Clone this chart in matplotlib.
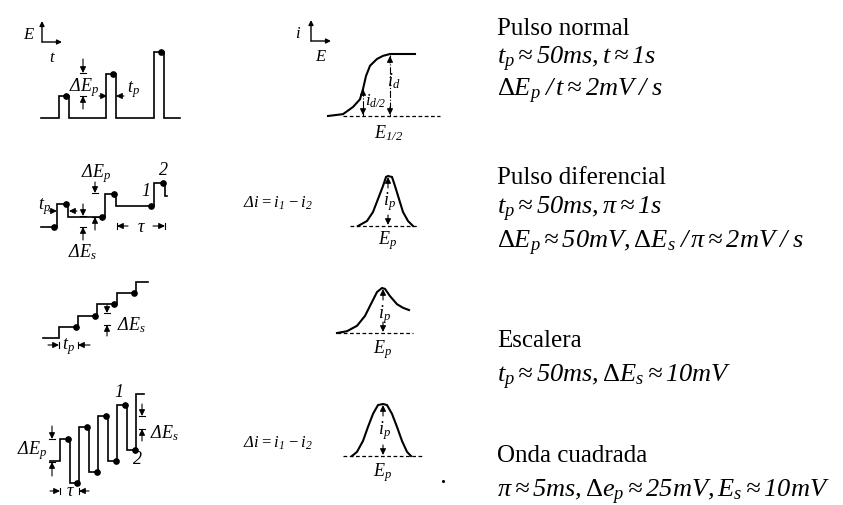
import matplotlib.pyplot as plt

plt.rcParams["font.family"] = ["Liberation Serif", "DejaVu Serif"]
plt.rcParams["mathtext.fontset"] = "custom"
plt.rcParams["mathtext.rm"] = "Liberation Serif:italic"
plt.rcParams["mathtext.it"] = "Liberation Serif:italic"
plt.rcParams["mathtext.sf"] = "Liberation Serif"

W, H = 843, 506

# --- Pulso normal: amplitudes (x dE_p) and onsets (x tau) ---
normal_amp = [1, 2, 3]
normal_onset = [0, 1, 2]
normal_width = 0.21
# polarograma: E (rel.) vs i / i_d
normal_curve_e = [0, 15, 25, 32, 35, 38, 42, 49, 55, 62, 87]
normal_curve_i = [0, 0.03, 0.145, 0.27, 0.435, 0.645, 0.81, 0.92, 0.97, 1.0, 1.0]

# --- Pulso diferencial: base levels (x dE_s), pulse amplitude ---
diff_levels = [0, 1, 2, 3]
diff_amp = 2.2
diff_onset = [0, 1, 2]
diff_width = 0.22
diff_peak_e = [-30, -21, -15, -10, -5, -2, 0, 4, 7, 11, 15, 20, 25]
diff_peak_i = [0, 0.1, 0.28, 0.54, 0.8, 0.98, 1.0, 0.98, 0.8, 0.54, 0.28, 0.1, 0]

# --- Escalera ---
stair_levels = [0, 1, 2, 3, 4, 5]
stair_peak_e = [-46, -36, -26, -18, -11, -6, -1, 2, 7, 14, 20, 26]
stair_peak_i = [0, 0.04, 0.16, 0.38, 0.69, 0.91, 1.0, 0.98, 0.82, 0.64, 0.56, 0.51]

# --- Onda cuadrada: levels per half period (x dE_s) ---
sq_levels = [0, 2, -2, 3, -1, 4, 0, 5, 1, 6]
sq_half = 0.5
sq_peak_e = [-31, -26, -20, -15, -10, -5, 0, 4, 9, 14, 19, 24, 28]
sq_peak_i = [0, 0.08, 0.29, 0.56, 0.81, 0.98, 1.0, 0.98, 0.81, 0.56, 0.29, 0.08, 0]

titles = ["Pulso normal", "Pulso diferencial", "Escalera", "Onda cuadrada"]
formulas = [
    [r"$t_p \approx 50ms, t \approx 1s$",
     r"$\mathsf{\Delta}E_p\;/\,t \approx 2mV\;/\;s$"],
    [r"$t_p \approx 50ms, \pi \approx 1s$",
     r"$\mathsf{\Delta}E_p \approx 50mV, \mathsf{\Delta}E_s\;/\,\pi \approx 2mV\;/\;s$"],
    [r"$t_p \approx 50ms, \mathsf{\Delta}E_s \approx 10mV$"],
    [r"$\pi \approx 5ms, \mathsf{\Delta}e_p \approx 25mV, E_s \approx 10mV$"],
]
title_y = [35, 184, 347, 462]
formula_y = [[64, 96], [214, 248], [382], [497]]

LW = 1.2
fig = plt.figure(figsize=(W / 100, H / 100), dpi=100)


def box_axes(x0, y0, x1, y1, xlim, ylim):
    ax = fig.add_axes([x0 / W, 1 - y1 / H, (x1 - x0) / W, (y1 - y0) / H])
    ax.set_xlim(*xlim)
    ax.set_ylim(*ylim)
    ax.axis("off")
    ax.patch.set_visible(False)
    return ax


def steps(t_edges, levels, t0, t1):
    # step path: levels[k] holds from edge k-1 to edge k
    t = [t0]
    e = [levels[0]]
    for k, te in enumerate(t_edges):
        t += [te, te]
        e += [levels[k], levels[k + 1]]
    t.append(t1)
    e.append(levels[-1])
    return t, e


def line(ax, t, e, **kw):
    ax.plot(t, e, color="k", lw=kw.pop("lw", LW), clip_on=False,
            solid_joinstyle="miter", **kw)


def dots(ax, t, e):
    ax.plot(t, e, "o", color="k", ms=3.8, clip_on=False)


def peak(ax, e, i, xlim):
    line(ax, e, i, lw=1.5)
    ax.plot(xlim, [0, 0], color="k", lw=0.9, ls=(0, (3, 2)), clip_on=False)


# ---------- waveforms ----------
# pulso normal
axA = box_axes(41, 53, 180, 119, (-0.38, 2.55), (0, 3))
edges, lev = [], [0]
for t0, a in zip(normal_onset, normal_amp):
    edges += [t0, t0 + normal_width]
    lev += [a, 0]
t, e = steps(edges, lev, -0.38, 2.55)
line(axA, t, e)
dots(axA, [t0 + 0.14 for t0 in normal_onset], normal_amp)

axA2 = box_axes(328, 55, 440, 117, (0, 112), (0, 1))
line(axA2, normal_curve_e, normal_curve_i, lw=1.5)
axA2.plot([15, 112], [0, 0], color="k", lw=0.9, ls=(0, (3, 2)), clip_on=False)

# pulso diferencial
axB = box_axes(41, 183, 167, 228, (-0.33, 2.27), (0, 4.3))
edges, lev = [], [diff_levels[0]]
for k, t0 in enumerate(diff_onset):
    edges += [t0, t0 + diff_width]
    lev += [diff_levels[k] + diff_amp, diff_levels[k + 1]]
t, e = steps(edges, lev, -0.33, 2.27)
line(axB, t, e)
dots(axB, [t0 - 0.07 for t0 in diff_onset], diff_levels[:3])
dots(axB, [t0 + 0.18 for t0 in diff_onset], [v + diff_amp for v in diff_levels[:3]])

axB2 = box_axes(350, 177, 418, 227, (-38, 30), (0, 1))
peak(axB2, diff_peak_e, diff_peak_i, (-38, 30))

# escalera
axC = box_axes(43, 283, 148, 339, (-0.83, 4.63), (0, 5))
t, e = steps(list(range(len(stair_levels) - 1)), stair_levels, -0.83, 4.63)
line(axC, t, e)
dots(axC, [k - 0.12 for k in range(1, 5)], stair_levels[1:5])

axC2 = box_axes(337, 289, 413, 334, (-46, 30), (0, 1))
peak(axC2, stair_peak_e, stair_peak_i, (-46, 30))

# onda cuadrada
axD = box_axes(50, 395, 144, 484, (-0.53, 4.4), (-2, 6))
sq_edges = [k * sq_half for k in range(len(sq_levels) - 1)]
t, e = steps(sq_edges, sq_levels, -0.53, 4.4)
line(axD, t, e)
dots(axD, [te - 0.09 for te in sq_edges[1:]], sq_levels[1:-1])

axD2 = box_axes(343, 405, 422, 457, (-40, 39), (0, 1))
peak(axD2, sq_peak_e, sq_peak_i, (-40, 39))

# ---------- overlay in pixels for labels ----------
ov = fig.add_axes([0, 0, 1, 1])
ov.set_xlim(0, W)
ov.set_ylim(H, 0)
ov.axis("off")
ov.patch.set_visible(False)


def arrow(x0, y0, x1, y1, bar=True, lw=0.8):
    ov.annotate("", xy=(x1, y1), xytext=(x0, y0),
                arrowprops=dict(arrowstyle="-|>,head_length=0.45,head_width=0.22",
                                color="k", lw=lw, mutation_scale=8,
                                shrinkA=0, shrinkB=0))
    if bar:
        if x0 == x1:
            ov.plot([x1 - 3, x1 + 3], [y1, y1], color="k", lw=lw)
        else:
            ov.plot([x1, x1], [y1 - 3, y1 + 3], color="k", lw=lw)


def lab(x, y, s, size=13, **kw):
    ov.text(x, y, s, fontsize=size, ha="center", va="center", **kw)


def axes_icon(x, y, xl, yl):
    ov.annotate("", xy=(x, y - 21), xytext=(x, y),
                arrowprops=dict(arrowstyle="-|>,head_length=0.4,head_width=0.2",
                                color="k", lw=1.0, mutation_scale=7, shrinkA=0, shrinkB=0))
    ov.annotate("", xy=(x + 20, y), xytext=(x, y),
                arrowprops=dict(arrowstyle="-|>,head_length=0.4,head_width=0.2",
                                color="k", lw=1.0, mutation_scale=7, shrinkA=0, shrinkB=0))
    lab(x - 13, y - 8, yl, size=12)
    lab(x + 10, y + 15, xl, size=12)


axes_icon(42, 43, "$t$", "$E$")
axes_icon(311, 42, "$E$", "$i$")

# panel A labels
arrow(83, 60, 83, 74)
arrow(83, 110, 83, 97)
lab(84, 88, r"$\Delta E_p$")
arrow(99, 97, 107, 97, bar=False)
arrow(124, 97, 116, 97, bar=False)
lab(133, 90, r"$t_p$")

# sigmoid annotations
ov.plot([390, 390], [56, 117], color="k", lw=0.8, ls="-.")
arrow(390, 64, 390, 57, bar=False)
arrow(390, 108, 390, 116, bar=False)
lab(394, 81, r"$i_d$")
ov.plot([363, 363], [90, 117], color="k", lw=0.8, ls="-.")
arrow(363, 96, 363, 90, bar=False)
arrow(363, 110, 363, 116, bar=False)
lab(376, 101, r"$i_{d/2}$", size=12)
lab(389, 133, r"$E_{1/2}$")

# panel B labels
lab(44, 207, r"$t_p$")
arrow(49, 212, 57, 212, bar=False)
arrow(77, 212, 69, 212, bar=False)
lab(96, 174, r"$\Delta E_p$")
arrow(95, 183, 95, 194)
arrow(95, 231, 95, 218)
arrow(83, 205, 83, 217)
arrow(83, 241, 83, 228)
lab(82, 252, r"$\Delta E_s$")
lab(146, 192, "1", style="italic")
lab(163, 170, "2", style="italic")
arrow(128, 227, 117, 227)
arrow(153, 227, 165, 227)
lab(141, 227, r"$\tau$")

# panel C labels
arrow(107, 306, 107, 314)
arrow(107, 337, 107, 326)
lab(131, 325, r"$\Delta E_s$")
arrow(48, 346, 59, 346)
arrow(90, 346, 78, 346)
lab(68, 347, r"$t_p$")

# panel D labels
lab(32, 451, r"$\Delta E_p$")
arrow(52, 427, 52, 440)
arrow(52, 477, 52, 463)
arrow(50, 492, 60, 492)
arrow(89, 492, 79, 492)
lab(70, 492, r"$\tau$")
lab(119, 393, "1", style="italic")
lab(137, 460, "2", style="italic")
arrow(142, 405, 142, 417)
arrow(142, 442, 142, 430)
lab(164, 433, r"$\Delta E_s$")

# Delta i labels
lab(278, 203, r"$\Delta i = i_1 - i_2$", size=12)
lab(278, 443, r"$\Delta i = i_1 - i_2$", size=12)

# peak annotations
for x, ytop, ybot, ylab, yE in [(388, 178, 227, 202, 241),
                                (383, 290, 334, 315, 350),
                                (383, 406, 457, 431, 473)]:
    arrow(x, ytop + 11, x, ytop, bar=False)
    arrow(x, ybot - 11, x, ybot - 1, bar=False)
    lab(x + 1, ylab, r"$i_p$")
    lab(x, yE, r"$E_p$")
ov.plot([443], [482], "o", color="k", ms=1.2)

# text column
for k, title in enumerate(titles):
    ov.text(497, title_y[k], title, fontsize=18, ha="left", va="baseline")
    for s, y in zip(formulas[k], formula_y[k]):
        ov.text(497, y, s, fontsize=19, ha="left", va="baseline")

fig.savefig("out.png", dpi=100)
